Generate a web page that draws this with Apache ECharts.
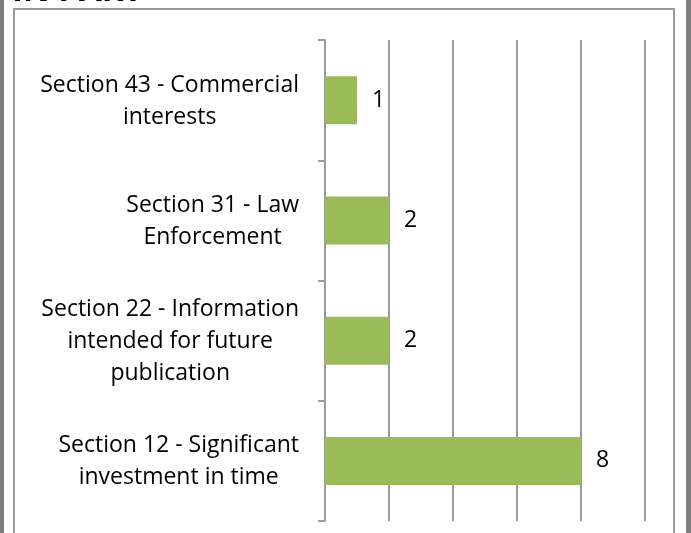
<!DOCTYPE html>
<html>
<head>
<meta charset="utf-8">
<script src="https://cdn.jsdelivr.net/npm/echarts@6/dist/echarts.min.js"></script>
<style>
	html, body {
		margin: 0;
		padding: 0;
		background: #fff;
	}
	#chart_box {
		width: 691px;
		height: 533px;
	}
</style>
</head>
<body>
<div id="chart_box"></div>
<script type="text/javascript">
// categories listed top to bottom as they appear
var categories = [
	'Section 43 - Commercial\ninterests',
	'Section 31 - Law\nEnforcement',
	'Section 22 - Information\nintended for future\npublication',
	'Section 12 - Significant\ninvestment in time'
];
var counts = [1, 2, 2, 8];
var xMin = 0;
var xMax = 10;
var xStep = 2;

var fontName = 'Open Sans';
var gridColor = '#9a9a9a';

var myChart = echarts.init(document.getElementById('chart_box'), null, {renderer: 'canvas'});

var option = {
	backgroundColor: '#fff',
	animation: false,
	grid: {
		left: 325,
		right: 46,
		top: 40,
		bottom: 12,
		containLabel: false
	},
	xAxis: {
		type: 'value',
		min: xMin,
		max: xMax,
		interval: xStep,
		axisLine: {show: false},
		axisTick: {show: false},
		axisLabel: {show: false},
		splitLine: {
			show: true,
			lineStyle: {color: gridColor, width: 2}
		}
	},
	yAxis: {
		type: 'category',
		inverse: true,
		data: categories,
		axisLine: {
			show: true,
			lineStyle: {color: gridColor, width: 2}
		},
		axisTick: {
			show: true,
			length: 7,
			lineStyle: {color: gridColor, width: 2}
		},
		axisLabel: {
			margin: 26,
			color: '#000',
			fontFamily: fontName,
			fontSize: 23,
			lineHeight: 32,
			padding: [2, 0, 0, 0],
			formatter: function (val) {
				return val.split('\n').map(function (line) {
					return '{c|' + line + '}';
				}).join('\n');
			},
			rich: {
				c: {
					align: 'center',
					color: '#000',
					fontFamily: fontName,
					fontSize: 23,
					lineHeight: 32
				}
			}
		}
	},
	series: [
		{
			type: 'bar',
			data: counts,
			barWidth: 48,
			itemStyle: {color: '#9bbb59'},
			label: {
				show: true,
				position: 'right',
				distance: 15,
				color: '#000',
				fontFamily: fontName,
				fontSize: 23
			}
		}
	],
	graphic: [
		{
			type: 'rect',
			shape: {x: 0, y: 0, width: 4, height: 533},
			style: {fill: '#7f7f7f'},
			silent: true
		},
		{
			type: 'rect',
			shape: {x: 686, y: 0, width: 5, height: 533},
			style: {fill: '#7f7f7f'},
			silent: true
		},
		{
			type: 'rect',
			shape: {x: 14, y: 9, width: 660, height: 540},
			style: {fill: null, stroke: '#9a9a9a', lineWidth: 2},
			silent: true
		},
		{
			type: 'text',
			x: 12,
			y: 8,
			style: {
				text: 'IN PART',
				font: 'bold 33px ' + fontName,
				fill: '#000',
				verticalAlign: 'bottom'
			},
			silent: true
		}
	]
};
myChart.setOption(option);
</script>
</body>
</html>
